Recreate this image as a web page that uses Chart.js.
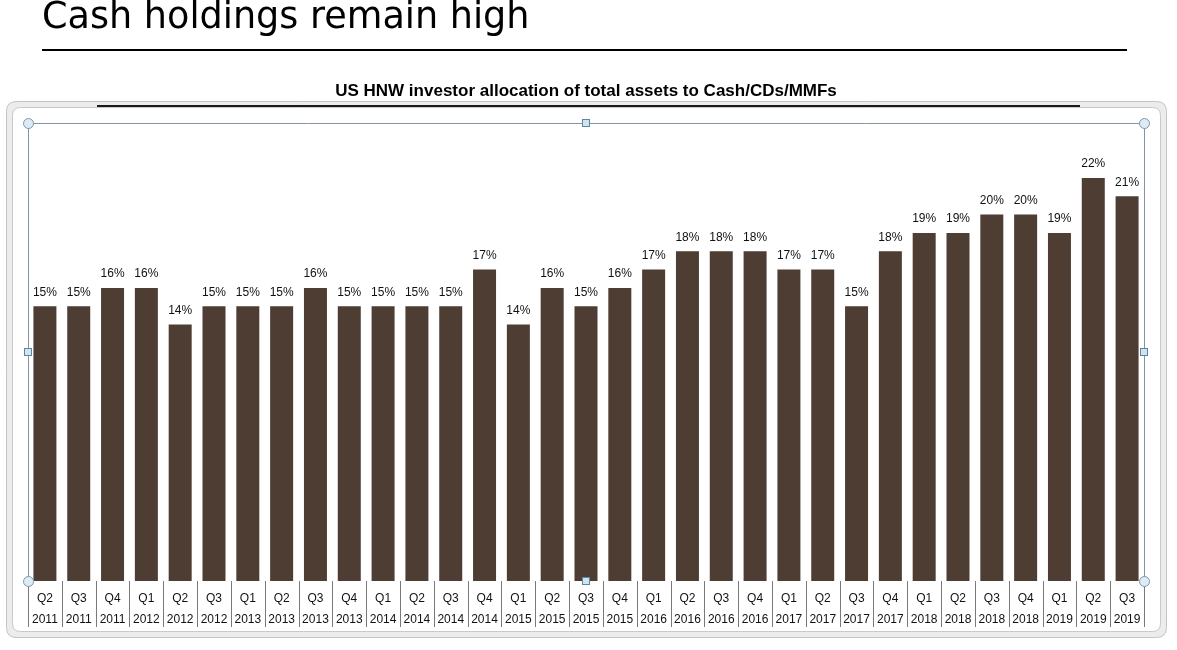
<!DOCTYPE html>
<html>
<head>
<meta charset="utf-8">
<script src="https://cdn.jsdelivr.net/npm/chart.js@4"></script>
<style>
  html, body { margin: 0; padding: 0; background: #fff; }
  #page { position: relative; width: 1177px; height: 650px; overflow: hidden; }
  #slideTitle {
    position: absolute; left: 42px; top: -6px;
    font-family: "DejaVu Sans", sans-serif; font-size: 36.6px; line-height: 44px;
    color: #000; white-space: nowrap; z-index: 2;
  }
  #rule { position: absolute; left: 42px; top: 49px; width: 1085px; height: 2px; background: #000; z-index: 2; }
  canvas { position: absolute; left: 0; top: 0; }
</style>
</head>
<body>
<div id="page">
  <div id="slideTitle">Cash holdings remain high</div>
  <div id="rule"></div>
  <canvas id="cashChart" width="1177" height="650"></canvas>
</div>
<script>
// ---------------------------------------------------------------------------
// DONNÉES
// ---------------------------------------------------------------------------
const quarters = ["Q2","Q3","Q4","Q1","Q2","Q3","Q1","Q2","Q3","Q4","Q1","Q2","Q3","Q4","Q1","Q2","Q3",
                  "Q4","Q1","Q2","Q3","Q4","Q1","Q2","Q3","Q4","Q1","Q2","Q3","Q4","Q1","Q2","Q3"];
const years = ["2011","2011","2011","2012","2012","2012","2013","2013","2013","2013","2014","2014","2014","2014","2015","2015","2015",
               "2015","2016","2016","2016","2016","2017","2017","2017","2017","2018","2018","2018","2018","2019","2019","2019"];
const cashShare = [15,15,16,16,14,15,15,15,16,15,15,15,15,17,14,16,15,
                   16,17,18,18,18,17,17,15,18,19,19,20,20,19,22,21];

const chartTitle = "US HNW investor allocation of total assets to Cash/CDs/MMFs";
const barColor = "#4e3d32";

const labels = quarters.map((q, i) => [q, years[i]]);

// ---------------------------------------------------------------------------
// PLUGIN : cadre, poignées, séparateurs d'axe, étiquettes de valeurs
// ---------------------------------------------------------------------------
function roundRect(ctx, x, y, w, h, r) {
    ctx.beginPath();
    ctx.moveTo(x + r, y);
    ctx.lineTo(x + w - r, y);
    ctx.quadraticCurveTo(x + w, y, x + w, y + r);
    ctx.lineTo(x + w, y + h - r);
    ctx.quadraticCurveTo(x + w, y + h, x + w - r, y + h);
    ctx.lineTo(x + r, y + h);
    ctx.quadraticCurveTo(x, y + h, x, y + h - r);
    ctx.lineTo(x, y + r);
    ctx.quadraticCurveTo(x, y, x + r, y);
    ctx.closePath();
}

const decorPlugin = {
    id: "decor",
    beforeDraw(chart) {
        const ctx = chart.ctx;
        ctx.save();
        // cadre de sélection
        roundRect(ctx, 6.5, 101.5, 1160, 536, 10);
        ctx.fillStyle = "#ececec";
        ctx.fill();
        ctx.strokeStyle = "#c4c4c4";
        ctx.lineWidth = 1;
        ctx.stroke();
        roundRect(ctx, 12.5, 107.5, 1148, 524, 8);
        ctx.fillStyle = "#ffffff";
        ctx.fill();
        ctx.strokeStyle = "#c8c8c8";
        ctx.stroke();
        // trait noir sous le titre
        ctx.fillStyle = "#1a1a1a";
        ctx.fillRect(97, 105, 983, 2);
        ctx.restore();
    },
    afterDatasetsDraw(chart) {
        const ctx = chart.ctx;
        const area = chart.chartArea;
        const xs = chart.scales.x;
        ctx.save();

        // valeurs au-dessus des barres
        ctx.font = "12px 'Liberation Sans', Arial, sans-serif";
        ctx.fillStyle = "#111";
        ctx.textAlign = "center";
        ctx.textBaseline = "middle";
        chart.getDatasetMeta(0).data.forEach((bar, i) => {
            ctx.fillText(cashShare[i] + "%", bar.x, bar.y - 14);
        });

        // séparateurs de l'axe des catégories
        const half = (xs.getPixelForValue(1) - xs.getPixelForValue(0)) / 2;
        ctx.strokeStyle = "#7a7a7a";
        ctx.lineWidth = 1;
        for (let i = 0; i <= labels.length; i++) {
            const px = Math.round(xs.getPixelForValue(i) - half) + 0.5;
            ctx.beginPath();
            ctx.moveTo(px, area.bottom);
            ctx.lineTo(px, area.bottom + 46);
            ctx.stroke();
        }

        // bordure de la zone de traçage
        ctx.strokeStyle = "#8795a0";
        ctx.beginPath();
        ctx.moveTo(area.left + 0.5, area.bottom);
        ctx.lineTo(area.left + 0.5, area.top + 0.5);
        ctx.lineTo(area.right + 0.5, area.top + 0.5);
        ctx.lineTo(area.right + 0.5, area.bottom);
        ctx.stroke();

        // poignées
        const midX = (area.left + area.right) / 2;
        const midY = (area.top + area.bottom) / 2;
        const circles = [[area.left, area.top], [area.right, area.top], [area.left, area.bottom], [area.right, area.bottom]];
        const squares = [[midX, area.top], [midX, area.bottom], [area.left, midY], [area.right, midY]];
        ctx.fillStyle = "#dcebf5";
        ctx.strokeStyle = "#7e98a8";
        circles.forEach(([cx, cy]) => {
            ctx.beginPath();
            ctx.arc(cx + 0.5, cy + 0.5, 5, 0, Math.PI * 2);
            ctx.fill();
            ctx.stroke();
        });
        ctx.fillStyle = "#cfe3f0";
        ctx.strokeStyle = "#5f86a0";
        squares.forEach(([cx, cy]) => {
            ctx.fillRect(Math.round(cx) - 3.5, Math.round(cy) - 3.5, 7, 7);
            ctx.strokeRect(Math.round(cx) - 3.5, Math.round(cy) - 3.5, 7, 7);
        });
        ctx.restore();
    }
};

// ---------------------------------------------------------------------------
// GRAPHIQUE
// ---------------------------------------------------------------------------
const ctx = document.getElementById("cashChart").getContext("2d");

const cashChart = new Chart(ctx, {
    type: "bar",
    data: {
        labels: labels,
        datasets: [{
            data: cashShare,
            backgroundColor: barColor,
            borderWidth: 0,
            categoryPercentage: 0.68,
            barPercentage: 1
        }]
    },
    options: {
        responsive: false,
        animation: false,
        layout: { padding: { left: 28, right: 33, top: 0, bottom: 19 } },
        plugins: {
            legend: { display: false },
            tooltip: { enabled: false },
            title: {
                display: true,
                text: chartTitle,
                color: "#000",
                font: { family: "'Liberation Sans', Arial, sans-serif", size: 17, weight: "bold", lineHeight: 1.2 },
                padding: { top: 81, bottom: 21.6 }
            }
        },
        scales: {
            x: {
                grid: { display: false },
                border: { display: false },
                ticks: {
                    color: "#111",
                    autoSkip: false,
                    maxRotation: 0,
                    padding: -1,
                    font: { family: "'Liberation Sans', Arial, sans-serif", size: 12, lineHeight: 1.75 }
                },
                afterFit(scale) { scale.height = 50; }
            },
            y: {
                display: false,
                min: 0,
                max: 25
            }
        }
    },
    plugins: [decorPlugin]
});
</script>
</body>
</html>
